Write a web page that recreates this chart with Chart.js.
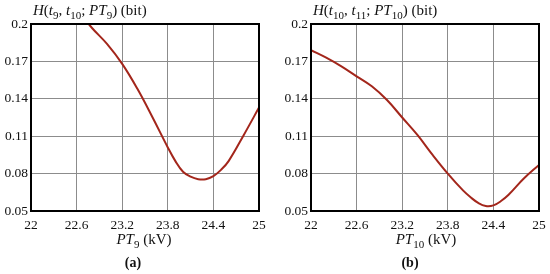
<!DOCTYPE html>
<html>
<head>
<meta charset="utf-8">
<script src="https://cdn.jsdelivr.net/npm/chart.js@4"></script>
<style>
  body { margin: 0; width: 550px; height: 274px; background: #fff; position: relative; overflow: hidden;
         font-family: "Liberation Serif", "DejaVu Serif", serif; color: #111; }
  .pane { position: absolute; top: 0; width: 275px; height: 240px; }
  .ytitle { position: absolute; top: 2px; font-size: 15px; white-space: nowrap; }
  .xtitle { position: absolute; top: 231px; font-size: 15px; white-space: nowrap; transform: translateX(-50%); }
  .cap { position: absolute; top: 255px; font-size: 14px; font-weight: bold; transform: translateX(-50%); }
  sub { font-size: 11px; vertical-align: -4px; line-height: 0; }
  i { font-style: italic; }
</style>
</head>
<body>
<div class="pane" style="left:0"><canvas id="chartA" width="275" height="240"></canvas></div>
<div class="pane" style="left:280px"><canvas id="chartB" width="275" height="240"></canvas></div>

<div class="ytitle" style="left:33px"><i>H</i>(<i>t</i><sub>9</sub>, <i>t</i><sub>10</sub>; <i>PT</i><sub>9</sub>) (bit)</div>
<div class="ytitle" style="left:313px"><i>H</i>(<i>t</i><sub>10</sub>, <i>t</i><sub>11</sub>; <i>PT</i><sub>10</sub>) (bit)</div>
<div class="xtitle" style="left:144px"><i>PT</i><sub>9</sub> (kV)</div>
<div class="xtitle" style="left:426px"><i>PT</i><sub>10</sub> (kV)</div>
<div class="cap" style="left:133px">(a)</div>
<div class="cap" style="left:410px">(b)</div>

<script>
// ---- data ----
const xTicks = [22, 22.6, 23.2, 23.8, 24.4, 25];
const yTicks = [0.05, 0.08, 0.11, 0.14, 0.17, 0.2];

const ptA = [22.6, 22.8, 23.0, 23.2, 23.4, 23.6, 23.8, 23.9, 24.0, 24.1, 24.2, 24.3, 24.4, 24.5, 24.6, 24.8, 25.0];
const hA  = [0.212, 0.197, 0.184, 0.168, 0.148, 0.125, 0.101, 0.090, 0.0815, 0.0775, 0.0755, 0.0755, 0.078, 0.083, 0.090, 0.111, 0.133];

const ptB = [22.0, 22.2, 22.4, 22.6, 22.8, 23.0, 23.2, 23.4, 23.6, 23.8, 24.0, 24.1, 24.2, 24.3, 24.4, 24.5, 24.6, 24.8, 25.0];
const hB  = [0.179, 0.173, 0.166, 0.158, 0.150, 0.139, 0.125, 0.111, 0.095, 0.080, 0.0665, 0.061, 0.0565, 0.054, 0.0545, 0.058, 0.063, 0.076, 0.087];

const lineColor = "#a3261b";
const tickFont = { family: "Liberation Serif", size: 13.5 };

function makeChart(id, xs, ys) {
    const ctx = document.getElementById(id);
    new Chart(ctx, {
        type: "line",
        data: {
            datasets: [{
                data: xs.map((x, i) => ({ x: x, y: ys[i] })),
                borderColor: lineColor,
                borderWidth: 2,
                pointRadius: 0,
                tension: 0.4,
                fill: false
            }]
        },
        options: {
            responsive: false,
            animation: false,
            layout: { padding: { top: 24, right: 16, left: 0, bottom: 0 } },
            plugins: { legend: { display: false }, tooltip: { enabled: false } },
            scales: {
                x: {
                    type: "linear", min: 22, max: 25,
                    afterBuildTicks: s => { s.ticks = xTicks.map(v => ({ value: v })); },
                    afterFit: s => { s.height = 29; },
                    ticks: { color: "#111", font: tickFont, padding: 6, maxRotation: 0, callback: v => String(v) },
                    grid: { color: "#8c8c8c", lineWidth: 1, drawTicks: false },
                    border: { color: "#000", width: 2 }
                },
                y: {
                    min: 0.05, max: 0.2,
                    afterBuildTicks: s => { s.ticks = yTicks.map(v => ({ value: v })); },
                    afterFit: s => { s.width = 31; },
                    ticks: { color: "#111", font: tickFont, padding: 3, callback: v => String(v) },
                    grid: { color: "#8c8c8c", lineWidth: 1, drawTicks: false },
                    border: { color: "#000", width: 2 }
                }
            }
        },
        plugins: [{
            // black frame on all four sides like the original
            id: "frame",
            afterDraw(chart) {
                const a = chart.chartArea, c = chart.ctx;
                c.save();
                c.strokeStyle = "#000";
                c.lineWidth = 2;
                c.strokeRect(a.left, a.top, a.right - a.left, a.bottom - a.top);
                c.restore();
            }
        }]
    });
}

makeChart("chartA", ptA, hA);
makeChart("chartB", ptB, hB);
</script>
</body>
</html>
